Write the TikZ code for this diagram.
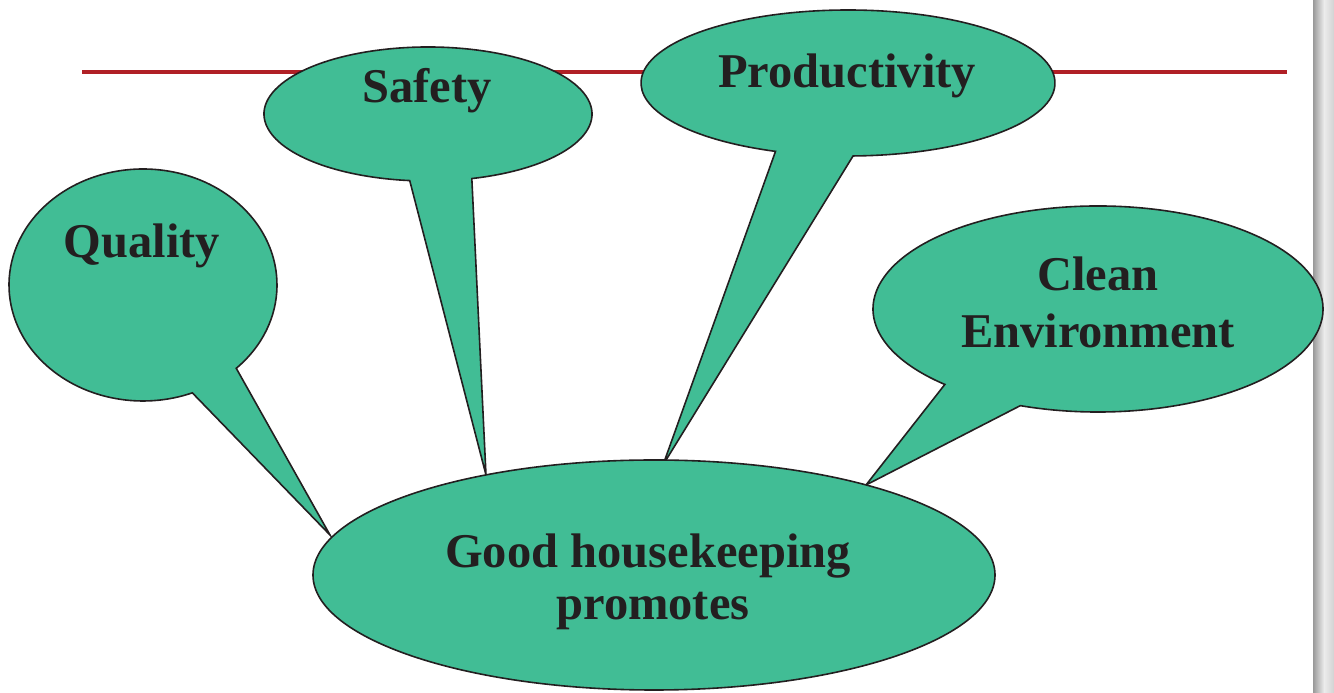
\documentclass[tikz,border=0pt]{standalone}
\usepackage{fontspec}
\setmainfont{Liberation Serif}
\definecolor{bubblefill}{RGB}{65,189,149}
\definecolor{inkline}{RGB}{35,31,32}
\definecolor{rulered}{RGB}{176,32,38}
\begin{document}
\begin{tikzpicture}[x=1pt,y=1pt,
  bubble/.style={fill=bubblefill,draw=inkline,line width=1.6pt,line join=miter},
  label/.style={font=\fontsize{48.5}{58}\selectfont\bfseries,text=inkline,anchor=base,inner sep=0pt}]
\useasboundingbox (0,0) rectangle (1334,693);
% side bar
\shade[left color=gray!80,right color=gray!15] (1313,0) rectangle (1324,693);
\shade[left color=gray!15,right color=gray!35] (1324,0) rectangle (1334,693);
% red rule
\draw[rulered,line width=4pt] (82,621) -- (1287,621);
% centres and tips
\coordinate (cQ) at (143,408);
\coordinate (tQ) at (330,158);
\coordinate (cS) at (428,579);
\coordinate (tS) at (486,218);
\coordinate (cP) at (848,610);
\coordinate (tP) at (663,228);
\coordinate (cC) at (1098,384);
\coordinate (tC) at (866,208);
% callouts
\draw[bubble] (tQ) -- ([shift={(-45.9:134pt and 116pt)}]cQ)
  arc[start angle=-45.9,end angle=291.6,x radius=134pt,y radius=116pt] -- cycle;
\draw[bubble] (tS) -- ([shift={(-74.5:164pt and 67pt)}]cS)
  arc[start angle=-74.5,end angle=263.6,x radius=164pt,y radius=67pt] -- cycle;
\draw[bubble] (tP) -- ([shift={(-88.6:207pt and 73pt)}]cP)
  arc[start angle=-88.6,end angle=249.5,x radius=207pt,y radius=73pt] -- cycle;
\draw[bubble] (tC) -- ([shift={(-110.2:225pt and 103pt)}]cC)
  arc[start angle=-110.2,end angle=227.1,x radius=225pt,y radius=103pt] -- cycle;
% main ellipse
\draw[bubble] (654,118) ellipse[x radius=341pt,y radius=115pt];
\coordinate (main) at (654,118);
% texts
\node[label] (quality) at (142,435) {Quality};
\node[label] (safety) at (427,590) {Safety};
\node[label] (productivity) at (847,605) {Productivity};
\node[label] (cleanA) at (1098,402) {Clean};
\node[label] (cleanB) at (1098,345) {Environment};
\node[label] (goodA) at (648,125) {Good housekeeping};
\node[label] (goodB) at (653,73) {promotes};
\end{tikzpicture}
\end{document}
